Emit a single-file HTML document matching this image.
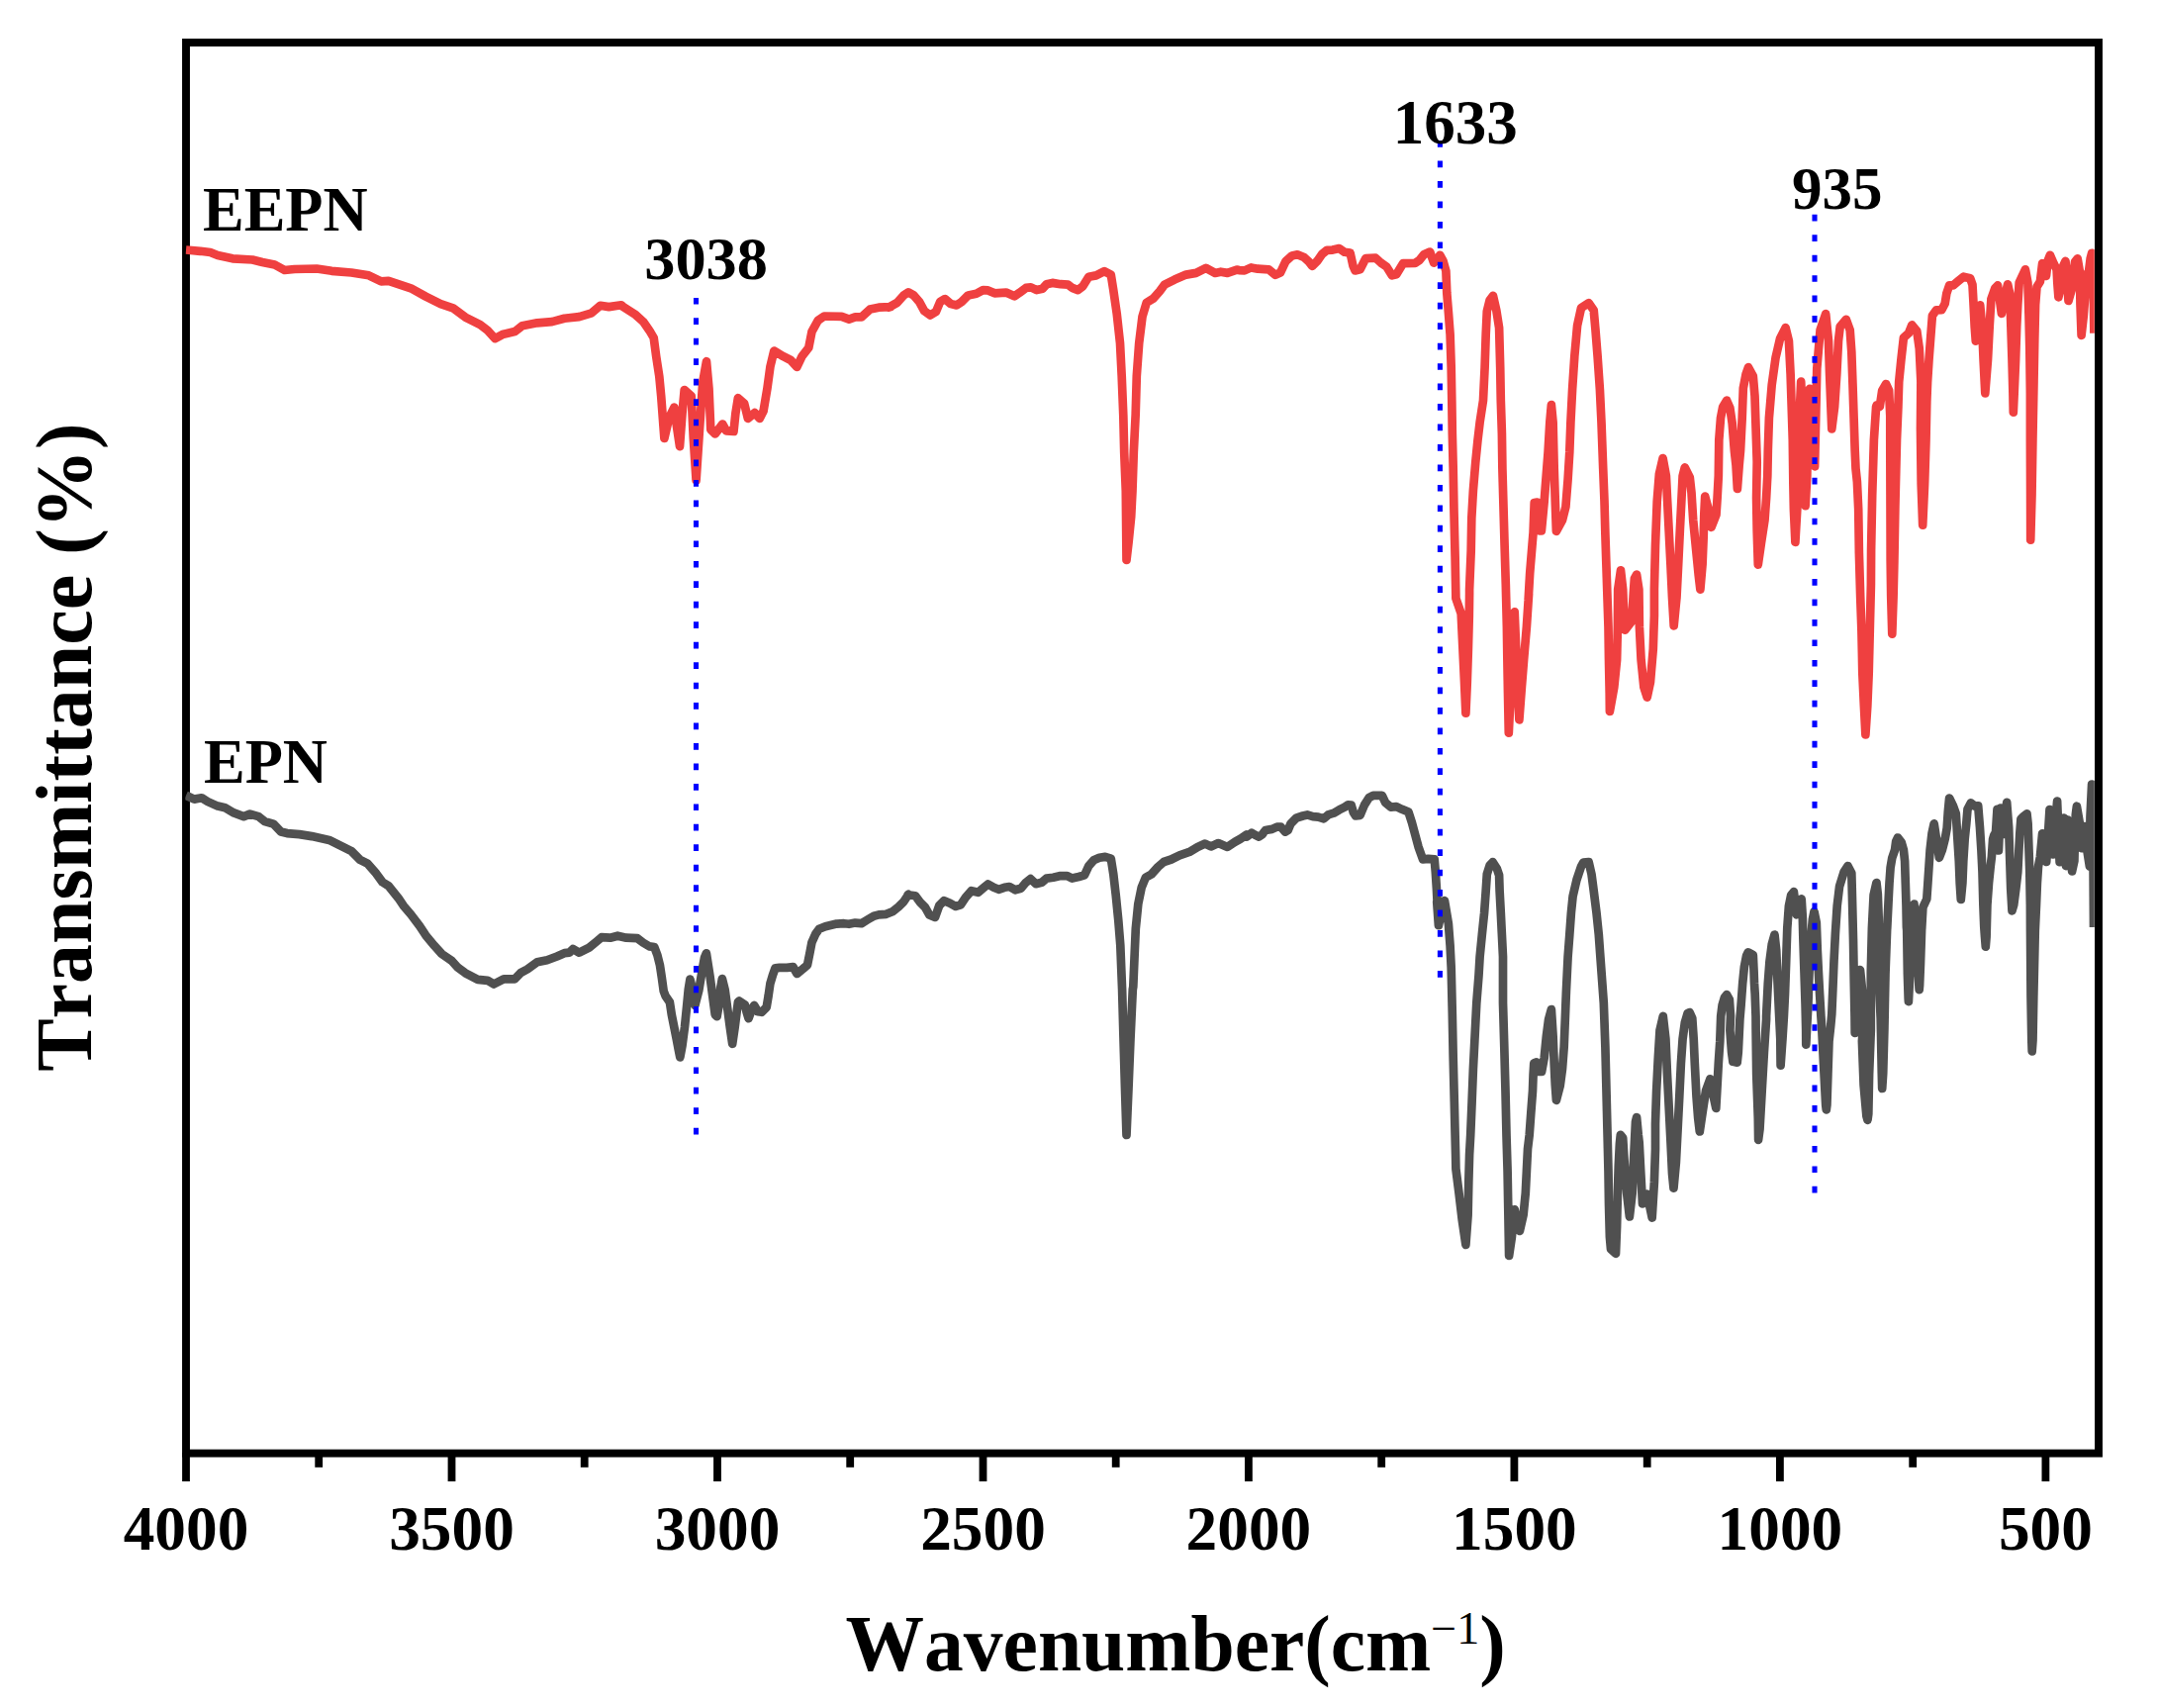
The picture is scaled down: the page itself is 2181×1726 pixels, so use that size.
<!DOCTYPE html>
<html><head><meta charset="utf-8"><title>FTIR</title>
<style>
html,body{margin:0;padding:0;background:#fff;}
body{width:2181px;height:1726px;overflow:hidden;}
svg{display:block;}
text{font-family:"Liberation Serif","Times New Roman",serif;font-weight:bold;fill:#000;font-kerning:none;font-feature-settings:"kern" 0,"liga" 0;}
</style></head><body>
<svg width="2181" height="1726" viewBox="0 0 2181 1726">
<rect width="2181" height="1726" fill="#fff"/>
<defs><clipPath id="c"><rect x="187.3" y="47" width="1929.5" height="1418"/></clipPath></defs>
<rect x="188" y="43" width="1933" height="1425.6" fill="none" stroke="#000" stroke-width="7.9"/>
<line x1="188.0" y1="1468" x2="188.0" y2="1497" stroke="#000" stroke-width="7.8"/>
<line x1="322.2" y1="1468" x2="322.2" y2="1482.8" stroke="#000" stroke-width="7.8"/>
<line x1="456.5" y1="1468" x2="456.5" y2="1497" stroke="#000" stroke-width="7.8"/>
<line x1="590.7" y1="1468" x2="590.7" y2="1482.8" stroke="#000" stroke-width="7.8"/>
<line x1="725.0" y1="1468" x2="725.0" y2="1497" stroke="#000" stroke-width="7.8"/>
<line x1="859.2" y1="1468" x2="859.2" y2="1482.8" stroke="#000" stroke-width="7.8"/>
<line x1="993.5" y1="1468" x2="993.5" y2="1497" stroke="#000" stroke-width="7.8"/>
<line x1="1127.7" y1="1468" x2="1127.7" y2="1482.8" stroke="#000" stroke-width="7.8"/>
<line x1="1261.9" y1="1468" x2="1261.9" y2="1497" stroke="#000" stroke-width="7.8"/>
<line x1="1396.2" y1="1468" x2="1396.2" y2="1482.8" stroke="#000" stroke-width="7.8"/>
<line x1="1530.4" y1="1468" x2="1530.4" y2="1497" stroke="#000" stroke-width="7.8"/>
<line x1="1664.7" y1="1468" x2="1664.7" y2="1482.8" stroke="#000" stroke-width="7.8"/>
<line x1="1798.9" y1="1468" x2="1798.9" y2="1497" stroke="#000" stroke-width="7.8"/>
<line x1="1933.2" y1="1468" x2="1933.2" y2="1482.8" stroke="#000" stroke-width="7.8"/>
<line x1="2067.4" y1="1468" x2="2067.4" y2="1497" stroke="#000" stroke-width="7.8"/>
<g clip-path="url(#c)" fill="none" stroke-linejoin="round" stroke-linecap="butt">
<path d="M188.0 803.8 L196.3 807.6 L203.8 806.3 L210.0 810.1 L220.0 814.6 L227.5 816.3 L236.3 821.4 L246.3 825.1 L252.6 822.6 L261.3 825.1 L267.6 830.1 L276.3 832.6 L283.9 840.6 L290.1 842.1 L302.6 843.1 L315.1 845.1 L332.7 848.9 L342.7 853.9 L355.2 860.1 L363.9 868.9 L371.4 872.7 L380.2 882.7 L386.5 891.4 L392.7 895.2 L402.7 907.7 L407.7 915.2 L415.2 924.0 L424.0 935.7 L430.3 945.2 L439.0 955.7 L446.5 964.0 L456.5 970.8 L462.8 977.8 L470.3 983.3 L482.8 989.8 L492.8 990.8 L499.1 994.5 L509.1 989.3 L520.3 989.3 L526.6 982.8 L532.9 979.5 L542.9 972.3 L552.9 970.3 L562.9 966.5 L570.4 963.2 L575.4 962.7 L579.1 959.0 L585.4 962.7 L595.4 957.7 L602.9 951.5 L607.9 947.2 L616.7 947.7 L624.2 945.7 L633.0 947.7 L644.2 948.2 L650.0 952.6 L656.3 956.4 L661.3 957.0 L664.4 965.2 L666.9 975.2 L668.8 987.7 L670.7 1001.5 L672.6 1006.5 L676.9 1012.8 L678.8 1025.3 L681.3 1037.8 L683.8 1050.4 L685.7 1060.4 L687.3 1068.5 L689.5 1056.6 L692.0 1037.8 L693.9 1019.0 L695.7 1000.3 L697.4 989.6 L699.5 997.7 L702.4 1015.9 L706.4 1000.3 L709.5 981.5 L712.0 967.7 L713.9 963.3 L717.7 987.7 L720.2 1006.5 L722.7 1025.3 L724.6 1027.2 L727.1 1012.8 L728.3 997.7 L729.9 989.0 L732.7 1000.3 L735.2 1019.0 L737.7 1037.8 L740.2 1054.8 L742.7 1037.8 L744.6 1022.8 L745.9 1012.8 L747.1 1011.5 L752.8 1015.3 L754.6 1022.8 L756.5 1029.1 L760.3 1019.0 L762.2 1015.9 L765.9 1022.2 L769.7 1022.8 L774.7 1017.8 L776.6 1006.5 L778.4 994.0 L781.0 985.2 L783.5 978.3 L787.8 977.9 L795.4 977.9 L801.6 977.1 L805.4 984.0 L811.7 978.9 L816.0 975.2 L818.5 962.7 L820.4 952.6 L824.2 943.9 L827.9 938.8 L834.2 936.3 L845.5 933.6 L853.0 933.2 L858.0 933.8 L864.3 932.6 L870.6 933.2 L876.8 929.4 L883.1 925.7 L888.1 924.4 L895.6 923.8 L901.9 921.3 L908.1 916.3 L913.2 911.3 L918.2 903.8 L917.5 904.3 L925.0 905.2 L930.0 911.8 L935.0 916.8 L939.2 924.4 L945.1 926.9 L949.2 915.2 L954.2 910.2 L960.1 912.7 L965.9 916.0 L970.9 914.3 L975.9 906.8 L981.8 900.2 L988.5 901.8 L993.5 897.7 L998.5 893.5 L1004.3 896.8 L1009.3 898.8 L1015.2 896.8 L1020.2 896.0 L1026.0 899.3 L1031.8 897.7 L1036.8 891.8 L1041.5 888.1 L1046.9 893.2 L1052.7 891.8 L1057.7 887.6 L1064.4 886.8 L1071.9 885.1 L1078.6 885.1 L1083.6 887.6 L1090.3 886.0 L1096.1 884.3 L1100.3 875.1 L1105.3 869.3 L1111.1 866.8 L1117.0 865.9 L1122.8 867.6 L1125.3 883.5 L1127.8 905.2 L1130.3 930.2 L1132.3 955.2 L1133.3 980.3 L1134.1 1000.0 L1135.5 1050.0 L1137.0 1100.0 L1138.5 1147.0 L1140.5 1100.0 L1142.5 1050.0 L1144.8 1000.0 L1145.3 997.0 L1146.7 963.6 L1147.8 938.5 L1150.3 913.5 L1153.7 896.8 L1157.8 886.8 L1163.7 883.5 L1170.4 876.0 L1176.2 871.0 L1183.7 868.5 L1192.1 864.3 L1202.1 860.9 L1210.4 855.9 L1217.9 852.6 L1223.8 855.4 L1231.3 852.1 L1240.5 855.9 L1248.0 850.9 L1253.8 847.6 L1260.0 843.4 L1260.0 845.6 L1265.0 841.7 L1267.8 843.4 L1272.2 845.6 L1275.6 843.4 L1278.9 839.0 L1285.6 837.9 L1290.6 835.6 L1294.5 835.6 L1298.9 840.6 L1301.7 839.0 L1304.5 832.3 L1310.1 826.7 L1316.7 824.5 L1321.2 823.4 L1326.8 825.1 L1332.3 825.6 L1337.9 827.3 L1342.3 823.4 L1347.9 821.7 L1353.4 818.4 L1359.0 815.6 L1362.3 813.4 L1365.7 813.6 L1367.9 821.2 L1370.1 824.5 L1374.6 823.9 L1379.0 813.4 L1383.5 806.2 L1387.9 803.9 L1396.8 803.9 L1400.2 811.2 L1405.7 815.6 L1411.3 815.1 L1416.9 817.8 L1423.5 820.6 L1426.9 831.2 L1430.2 843.4 L1433.5 855.7 L1438.0 868.4 L1443.5 867.9 L1449.7 868.4 L1450.8 881.2 L1451.9 897.9 L1453.0 920.2 L1452.2 911.2 L1453.9 935.2 L1456.7 922.4 L1460.0 910.1 L1463.9 933.5 L1465.6 955.7 L1466.7 978.0 L1467.8 1024.5 L1468.7 1069.0 L1469.8 1113.5 L1470.6 1146.9 L1471.1 1166.7 L1471.4 1181.1 L1474.5 1205.6 L1477.8 1233.4 L1481.4 1257.9 L1483.6 1227.9 L1484.3 1194.5 L1485.1 1166.7 L1486.2 1146.9 L1487.6 1113.5 L1488.9 1080.1 L1490.6 1046.7 L1492.3 1013.4 L1494.5 985.6 L1495.6 966.9 L1497.8 944.6 L1500.1 922.4 L1501.7 900.1 L1502.8 883.4 L1505.6 874.5 L1508.7 871.2 L1512.9 877.9 L1515.1 884.5 L1515.6 900.1 L1516.8 922.4 L1517.9 944.6 L1519.0 966.9 L1519.0 1013.4 L1520.3 1057.9 L1521.5 1102.4 L1522.5 1146.9 L1523.6 1183.4 L1524.2 1216.7 L1524.8 1250.1 L1525.1 1269.0 L1527.9 1250.1 L1529.5 1233.4 L1530.7 1222.3 L1533.4 1234.5 L1535.9 1244.0 L1539.6 1227.9 L1541.8 1205.6 L1542.9 1183.4 L1544.0 1161.1 L1545.7 1146.9 L1547.3 1124.6 L1549.0 1102.4 L1549.6 1085.7 L1550.3 1074.3 L1552.9 1073.4 L1555.7 1082.9 L1558.1 1082.9 L1560.7 1069.0 L1562.9 1046.7 L1565.1 1030.1 L1567.9 1020.0 L1569.6 1046.7 L1570.7 1074.5 L1571.8 1096.8 L1572.9 1111.8 L1576.8 1096.8 L1579.0 1080.1 L1580.7 1057.9 L1581.8 1030.1 L1582.9 1002.2 L1584.6 966.9 L1586.3 944.6 L1587.9 922.4 L1589.6 905.7 L1593.5 889.0 L1598.0 875.6 L1600.2 871.7 L1605.7 871.2 L1608.5 883.4 L1610.7 900.1 L1613.5 922.4 L1615.8 944.6 L1617.4 966.9 L1620.8 1013.4 L1622.4 1057.9 L1623.5 1102.4 L1624.6 1146.9 L1625.5 1183.4 L1626.0 1216.7 L1626.9 1250.1 L1628.0 1262.3 L1633.0 1266.8 L1634.1 1239.0 L1634.9 1205.6 L1635.8 1177.8 L1636.9 1155.6 L1637.8 1146.9 L1640.2 1150.0 L1641.9 1177.8 L1644.1 1205.6 L1646.9 1229.5 L1649.7 1205.6 L1650.8 1177.8 L1651.9 1155.6 L1653.0 1133.5 L1654.1 1129.1 L1655.8 1146.9 L1656.7 1154.4 L1658.2 1183.4 L1659.4 1205.6 L1660.0 1216.5 L1664.7 1206.7 L1669.7 1230.6 L1671.9 1194.5 L1673.0 1161.1 L1673.0 1135.7 L1674.1 1102.4 L1675.8 1069.0 L1677.5 1041.2 L1680.8 1026.9 L1683.4 1049.8 L1685.0 1085.6 L1686.7 1119.0 L1688.4 1152.4 L1690.0 1185.7 L1691.5 1200.7 L1693.9 1174.6 L1695.6 1141.2 L1697.3 1107.9 L1698.9 1074.5 L1700.6 1049.8 L1702.8 1033.5 L1705.6 1024.1 L1707.6 1023.0 L1710.3 1029.1 L1711.7 1049.8 L1712.8 1074.5 L1714.5 1107.9 L1716.2 1130.1 L1717.8 1143.5 L1720.6 1124.5 L1724.0 1102.3 L1728.4 1090.3 L1731.2 1105.6 L1734.3 1119.9 L1735.6 1096.7 L1736.8 1074.5 L1738.3 1052.2 L1739.2 1026.9 L1740.6 1015.7 L1742.9 1007.9 L1745.1 1005.2 L1747.9 1010.2 L1749.0 1026.9 L1748.4 1041.1 L1750.1 1063.4 L1751.4 1072.8 L1755.7 1073.6 L1756.8 1063.4 L1758.4 1030.0 L1759.6 1015.7 L1761.2 993.5 L1762.9 976.8 L1765.1 965.7 L1766.8 962.3 L1771.8 965.1 L1772.5 980.1 L1773.0 993.5 L1773.7 1004.6 L1774.5 1026.9 L1774.6 1041.1 L1775.2 1085.6 L1776.8 1130.1 L1777.1 1151.8 L1778.5 1141.2 L1780.7 1102.3 L1782.9 1063.4 L1785.1 1030.0 L1785.1 1026.9 L1786.8 993.5 L1788.5 971.2 L1790.7 954.5 L1793.5 944.5 L1795.2 960.1 L1796.6 993.5 L1797.9 1021.3 L1799.3 1049.8 L1799.6 1076.7 L1801.5 1049.8 L1802.9 1026.9 L1804.0 1004.6 L1805.2 971.2 L1806.3 937.9 L1807.9 915.6 L1810.2 904.5 L1812.9 901.2 L1815.7 924.3 L1820.7 908.4 L1821.8 926.7 L1822.4 949.0 L1823.5 982.4 L1824.6 1015.7 L1825.2 1041.1 L1825.3 1055.6 L1826.0 1041.1 L1827.4 1015.7 L1828.7 976.8 L1830.2 949.0 L1831.9 929.0 L1833.5 921.2 L1835.8 932.3 L1836.8 960.1 L1837.9 982.4 L1839.1 1004.6 L1840.4 1026.9 L1841.1 1036.7 L1843.0 1074.5 L1845.2 1116.8 L1845.8 1121.4 L1846.4 1116.8 L1847.4 1085.6 L1848.5 1052.2 L1850.2 1036.7 L1851.3 1024.6 L1852.4 999.0 L1853.5 971.2 L1854.9 943.4 L1856.7 915.6 L1859.1 895.6 L1863.6 881.1 L1867.5 875.0 L1871.3 882.2 L1871.9 904.5 L1873.0 949.0 L1873.8 993.5 L1874.5 1026.9 L1874.7 1043.9 L1876.9 1004.6 L1878.6 982.4 L1880.0 980.1 L1882.5 1004.6 L1883.8 1026.9 L1881.9 1052.2 L1883.6 1096.7 L1886.4 1127.9 L1887.5 1131.8 L1888.3 1125.7 L1889.1 1085.6 L1890.8 1041.1 L1890.8 982.4 L1891.9 937.9 L1893.6 904.5 L1896.4 892.3 L1894.6 914.6 L1896.2 893.5 L1896.5 892.1 L1897.8 903.5 L1898.7 928.0 L1899.1 995.6 L1900.7 1029.0 L1901.8 1084.6 L1902.2 1100.0 L1903.2 1084.6 L1904.4 1040.1 L1905.5 984.5 L1907.1 940.0 L1907.3 936.9 L1908.4 914.6 L1909.5 892.4 L1910.6 876.8 L1912.3 866.8 L1915.0 859.0 L1916.2 850.1 L1918.0 846.5 L1921.7 851.2 L1923.9 859.0 L1925.1 870.1 L1925.8 892.4 L1926.5 914.6 L1926.9 936.9 L1927.2 940.0 L1927.9 984.5 L1928.7 1009.0 L1928.9 1012.1 L1930.3 984.5 L1932.3 940.0 L1933.2 936.9 L1934.5 913.7 L1936.2 936.9 L1937.8 962.2 L1939.5 997.8 L1939.7 1000.1 L1940.1 995.6 L1941.0 973.4 L1942.1 940.0 L1942.3 936.9 L1943.4 916.8 L1947.3 908.5 L1948.4 892.4 L1949.5 875.7 L1950.6 859.0 L1952.5 842.3 L1954.7 832.3 L1957.9 853.4 L1959.9 866.8 L1962.9 859.0 L1965.7 847.9 L1967.7 836.7 L1968.8 820.1 L1970.1 806.5 L1974.0 814.5 L1976.8 822.3 L1978.4 847.9 L1979.8 870.1 L1980.7 892.4 L1981.8 909.0 L1983.4 892.4 L1984.3 870.1 L1985.7 847.9 L1987.3 832.3 L1988.5 817.8 L1991.8 811.4 L1995.7 814.5 L1999.2 814.3 L2001.0 836.7 L2002.4 859.0 L2003.5 881.2 L2004.4 914.6 L2005.3 936.9 L2006.0 946.7 L2006.8 956.7 L2007.6 946.7 L2008.4 914.6 L2010.0 892.4 L2011.7 875.7 L2012.9 865.7 L2014.1 847.9 L2015.2 844.3 L2017.0 841.2 L2018.5 817.8 L2019.9 859.5 L2021.8 816.7 L2024.6 842.9 L2028.2 810.9 L2030.2 836.7 L2031.3 870.1 L2032.2 897.9 L2033.5 920.4 L2035.2 914.6 L2037.4 897.9 L2039.3 881.2 L2040.4 859.0 L2041.3 842.3 L2042.4 827.8 L2044.6 825.4 L2048.5 822.3 L2049.6 832.3 L2050.5 859.0 L2051.3 881.2 L2051.9 914.6 L2052.0 940.0 L2052.5 1006.7 L2053.3 1051.2 L2053.7 1062.4 L2054.5 1051.2 L2055.3 1006.7 L2056.8 940.0 L2058.0 914.6 L2058.9 892.4 L2060.0 875.7 L2061.9 865.7 L2064.1 842.3 L2068.2 871.0 L2071.5 818.1 L2074.7 863.4 L2079.1 809.5 L2081.6 871.2 L2085.8 826.7 L2088.0 875.1 L2089.7 828.7 L2094.1 880.5 L2096.4 870.1 L2096.9 847.9 L2097.8 823.4 L2098.9 814.7 L2101.9 832.3 L2103.8 857.1 L2106.9 835.1 L2109.1 857.9 L2111.9 875.5 L2112.5 825.6 L2114.1 792.5 L2114.9 836.7 L2115.6 881.2 L2116.0 936.9" stroke="#505050" stroke-width="8.7"/>
<path d="M188.0 252.5 L202.5 253.8 L212.5 255.0 L220.0 258.0 L235.1 261.3 L255.1 262.5 L265.1 265.0 L277.6 267.5 L287.6 273.0 L297.6 272.0 L320.1 271.5 L335.2 273.8 L355.2 275.5 L372.7 278.3 L385.2 284.3 L392.7 283.8 L415.2 291.3 L430.3 299.6 L445.3 307.1 L457.8 311.3 L470.3 320.6 L485.3 328.1 L492.8 333.9 L500.3 342.1 L507.8 338.1 L520.3 335.1 L527.8 329.3 L542.9 326.3 L557.9 325.1 L570.4 321.8 L585.4 320.1 L597.9 316.3 L606.7 308.8 L615.4 310.1 L627.9 308.3 L630.0 310.1 L642.5 318.2 L650.1 325.1 L656.3 333.9 L660.7 341.4 L663.2 360.2 L666.3 380.3 L668.2 400.3 L669.8 421.6 L671.4 442.9 L676.4 421.6 L681.4 411.6 L683.9 430.4 L687.0 451.1 L689.5 417.8 L691.7 394.0 L698.7 400.3 L700.8 442.9 L703.6 485.5 L706.4 442.9 L710.2 386.5 L714.0 365.2 L716.5 392.8 L718.3 434.1 L722.7 438.5 L730.3 428.5 L734.0 435.4 L741.5 436.0 L743.4 417.8 L745.9 402.2 L752.2 407.8 L755.9 422.9 L762.8 417.2 L767.8 422.9 L771.6 415.3 L775.4 392.8 L778.5 370.2 L782.3 354.6 L791.7 360.2 L799.2 364.0 L805.4 370.9 L810.5 360.2 L817.3 351.4 L820.5 335.1 L826.7 323.9 L833.0 319.5 L850.6 319.8 L858.1 322.6 L864.3 320.4 L870.6 320.4 L879.4 312.6 L888.1 310.7 L900.1 310.1 L898.3 310.6 L906.7 305.9 L913.4 298.4 L918.0 295.4 L923.4 298.4 L929.2 305.1 L934.2 314.3 L940.1 318.5 L945.9 315.1 L950.1 305.1 L955.1 302.1 L960.9 307.1 L966.8 308.4 L971.8 305.1 L978.5 298.4 L986.8 296.8 L993.5 293.1 L998.5 293.4 L1005.2 296.3 L1016.8 295.6 L1025.2 299.3 L1030.2 295.9 L1036.9 290.9 L1041.9 290.4 L1047.7 293.1 L1053.6 291.7 L1057.7 287.2 L1063.6 285.9 L1071.9 287.2 L1079.4 287.6 L1083.6 290.9 L1089.4 293.1 L1094.4 289.2 L1100.3 279.7 L1107.8 278.4 L1116.1 274.2 L1122.8 277.6 L1125.3 293.4 L1128.7 316.8 L1132.0 346.8 L1133.7 380.2 L1135.3 420.0 L1136.2 457.0 L1137.8 496.0 L1138.5 566.0 L1140.7 547.0 L1143.2 522.0 L1144.5 496.0 L1145.8 457.0 L1147.7 418.6 L1148.8 380.0 L1151.2 346.8 L1154.5 320.1 L1158.7 305.9 L1165.4 301.8 L1172.0 294.3 L1177.0 287.6 L1187.1 282.6 L1198.7 277.6 L1208.8 275.9 L1218.8 270.9 L1228.0 275.9 L1233.8 274.7 L1240.5 275.9 L1250.0 272.6 L1252.2 273.1 L1257.8 273.4 L1264.5 270.4 L1271.2 271.7 L1282.3 272.3 L1289.0 277.8 L1294.0 275.6 L1299.5 263.9 L1305.6 258.4 L1311.2 257.3 L1317.9 260.0 L1322.3 263.9 L1326.2 268.9 L1331.2 263.9 L1336.2 256.7 L1341.2 252.8 L1346.8 252.6 L1353.5 251.1 L1359.0 254.8 L1364.6 255.6 L1367.4 268.4 L1369.6 273.4 L1374.6 272.3 L1380.2 261.2 L1390.2 260.6 L1395.7 265.6 L1401.3 269.5 L1406.9 278.4 L1411.3 277.3 L1418.0 266.2 L1430.2 265.9 L1434.7 262.8 L1439.1 257.3 L1445.2 254.5 L1449.1 265.6 L1452.5 261.7 L1455.3 257.8 L1458.6 263.9 L1461.4 273.9 L1462.3 296.2 L1463.9 315.6 L1465.6 337.9 L1466.7 371.2 L1467.3 404.6 L1467.8 438.0 L1468.7 473.4 L1469.5 517.9 L1470.6 562.4 L1471.4 604.6 L1476.7 620.0 L1478.4 655.6 L1480.0 689.0 L1481.4 720.7 L1482.8 689.0 L1483.9 655.6 L1484.8 622.2 L1485.1 600.0 L1485.1 595.7 L1486.7 556.8 L1487.3 523.4 L1488.9 495.6 L1491.2 467.8 L1493.4 445.6 L1495.6 426.9 L1499.0 404.6 L1500.6 371.2 L1501.7 337.9 L1502.8 314.5 L1505.6 303.4 L1509.0 298.9 L1512.3 313.4 L1515.1 331.2 L1516.2 371.2 L1516.8 404.6 L1517.9 438.0 L1518.4 473.4 L1519.5 512.3 L1520.6 551.2 L1521.8 590.2 L1522.9 633.4 L1523.4 666.7 L1524.0 700.1 L1524.8 740.7 L1527.9 677.9 L1530.7 618.4 L1532.9 672.3 L1535.4 727.4 L1537.9 694.5 L1540.1 666.7 L1542.9 633.4 L1545.1 600.0 L1544.6 606.9 L1546.2 579.0 L1548.5 551.2 L1549.6 537.9 L1550.7 508.1 L1553.7 507.6 L1555.7 536.3 L1557.9 536.3 L1560.7 506.7 L1562.4 484.5 L1564.6 456.7 L1566.3 426.9 L1567.9 409.1 L1569.6 426.9 L1570.7 473.4 L1571.8 506.7 L1572.9 536.8 L1579.0 525.7 L1582.4 512.3 L1584.6 484.5 L1586.3 456.7 L1587.4 426.9 L1589.1 393.5 L1591.3 360.1 L1594.1 329.0 L1598.0 311.2 L1605.7 306.2 L1610.7 313.4 L1612.4 332.3 L1614.6 360.1 L1616.9 393.5 L1618.5 426.9 L1620.2 473.4 L1621.5 506.7 L1622.4 540.1 L1623.5 573.5 L1624.6 606.9 L1625.5 633.4 L1626.0 666.7 L1626.7 700.1 L1626.9 719.0 L1631.3 694.5 L1634.1 666.7 L1634.9 633.4 L1635.2 595.7 L1638.0 576.3 L1640.2 595.7 L1640.8 611.1 L1642.4 636.7 L1649.1 627.8 L1650.8 600.0 L1651.9 584.6 L1654.1 580.6 L1656.4 595.7 L1656.9 633.4 L1658.6 666.7 L1661.4 694.5 L1664.7 704.6 L1668.0 689.0 L1670.8 655.6 L1671.9 622.2 L1671.9 595.7 L1673.0 551.2 L1674.7 506.7 L1676.9 478.9 L1680.6 463.0 L1683.9 481.1 L1685.0 503.4 L1686.7 536.7 L1688.4 570.1 L1690.0 603.5 L1691.7 632.4 L1694.5 603.5 L1696.2 570.1 L1697.8 536.7 L1699.5 503.4 L1700.6 481.1 L1702.8 472.4 L1707.8 482.4 L1709.5 497.8 L1711.2 525.6 L1714.5 559.0 L1716.7 581.2 L1718.4 595.7 L1720.6 570.1 L1721.7 542.3 L1722.3 520.1 L1723.2 501.7 L1726.7 514.5 L1729.5 532.8 L1734.5 520.1 L1735.6 503.4 L1736.8 481.1 L1737.3 444.6 L1739.0 422.4 L1741.2 411.2 L1745.1 404.6 L1748.4 412.3 L1750.7 427.9 L1752.9 455.7 L1754.5 470.0 L1755.9 493.9 L1757.7 470.0 L1759.0 455.7 L1760.7 422.4 L1761.8 392.3 L1764.6 377.9 L1767.0 371.2 L1771.8 380.1 L1773.5 400.1 L1774.6 433.5 L1775.7 466.9 L1775.1 503.4 L1775.7 536.7 L1776.8 570.7 L1780.1 547.9 L1783.5 525.6 L1785.1 503.4 L1786.3 481.1 L1786.8 455.7 L1787.9 422.4 L1790.7 389.0 L1794.6 361.2 L1799.0 342.3 L1804.6 331.1 L1807.9 344.5 L1809.6 377.9 L1810.7 411.2 L1811.8 444.6 L1812.4 489.8 L1812.9 514.5 L1814.4 547.9 L1816.3 514.5 L1817.4 481.1 L1818.5 422.4 L1820.2 385.7 L1821.8 422.4 L1823.5 481.1 L1824.6 511.2 L1826.3 481.1 L1827.4 422.4 L1828.9 392.9 L1830.7 422.4 L1834.1 471.3 L1835.2 422.4 L1836.3 372.3 L1839.6 333.4 L1845.2 317.2 L1848.0 344.5 L1849.1 377.9 L1850.4 411.2 L1851.3 433.5 L1854.1 411.2 L1856.3 377.9 L1858.0 344.5 L1859.7 330.0 L1865.8 322.8 L1869.7 333.4 L1871.3 355.6 L1872.5 389.0 L1873.6 422.4 L1874.7 455.7 L1875.5 473.5 L1876.9 486.7 L1878.2 514.5 L1878.9 559.0 L1880.2 603.5 L1881.4 636.9 L1881.9 660.0 L1882.3 680.1 L1883.9 713.5 L1885.4 742.4 L1887.3 713.5 L1888.7 680.1 L1889.8 635.6 L1890.9 591.1 L1891.1 555.7 L1892.2 500.1 L1893.9 444.5 L1896.1 411.1 L1896.7 409.3 L1899.8 410.8 L1902.2 394.6 L1906.1 388.0 L1909.1 394.6 L1910.3 420.0 L1910.3 444.5 L1910.5 500.1 L1910.7 566.9 L1911.2 602.2 L1912.3 640.6 L1913.6 602.2 L1914.4 566.9 L1915.4 511.2 L1917.0 444.5 L1918.4 411.1 L1919.2 385.7 L1921.4 363.5 L1923.9 341.2 L1928.9 336.8 L1932.3 328.4 L1937.3 334.6 L1939.8 352.4 L1941.4 385.7 L1941.0 433.4 L1941.7 489.0 L1943.2 530.7 L1945.1 489.0 L1946.5 444.5 L1947.3 405.6 L1948.1 385.7 L1949.5 363.5 L1951.2 341.2 L1952.9 319.0 L1956.8 313.4 L1962.3 313.2 L1965.7 306.8 L1967.3 296.7 L1970.1 288.4 L1974.0 288.4 L1979.0 284.2 L1984.6 279.7 L1991.2 281.2 L1993.5 287.8 L1994.6 307.9 L1995.7 330.1 L1996.8 344.6 L1999.6 319.0 L2001.2 308.4 L2003.2 330.1 L2004.6 363.5 L2006.3 397.4 L2009.0 363.5 L2010.7 330.1 L2012.4 302.3 L2016.3 291.2 L2019.0 288.4 L2022.9 316.8 L2026.8 296.7 L2029.1 287.3 L2031.3 296.7 L2032.4 330.1 L2033.5 363.5 L2034.4 396.9 L2034.8 416.7 L2035.7 396.9 L2037.1 363.5 L2038.2 330.1 L2039.3 307.9 L2040.7 285.6 L2043.5 279.5 L2046.9 272.3 L2049.4 285.6 L2050.5 319.0 L2051.3 352.4 L2051.9 396.9 L2051.9 444.5 L2052.1 500.1 L2052.2 545.7 L2053.5 500.1 L2054.4 444.5 L2055.5 385.7 L2056.3 341.2 L2057.1 307.9 L2058.5 290.1 L2061.9 284.5 L2064.1 266.2 L2068.0 278.9 L2069.7 263.4 L2071.9 257.8 L2075.8 266.7 L2078.6 272.3 L2079.3 285.6 L2080.4 300.3 L2083.6 285.6 L2085.2 268.9 L2087.5 263.9 L2089.1 283.4 L2090.5 304.0 L2094.1 291.2 L2095.8 274.5 L2097.1 264.5 L2099.7 261.4 L2101.9 274.5 L2102.5 307.9 L2103.6 338.8 L2105.8 319.0 L2107.5 296.7 L2108.9 277.8 L2111.1 273.9 L2112.7 261.1 L2114.1 255.8 L2115.6 274.5 L2116.0 307.9 L2116.4 336.8" stroke="#ef4040" stroke-width="8.7"/>
</g>
<g stroke="#0000ff" stroke-width="5.1" stroke-dasharray="6.7 13.76" fill="none">
<line x1="703.5" y1="300.9" x2="703.5" y2="1147"/>
<line x1="1455.4" y1="142.1" x2="1455.4" y2="988"/>
<line x1="1834" y1="196.3" x2="1834" y2="1206"/>
</g>
<text x="188.0" y="1565.6" text-anchor="middle" font-size="63.3">4000</text>
<text x="456.5" y="1565.6" text-anchor="middle" font-size="63.3">3500</text>
<text x="725.0" y="1565.6" text-anchor="middle" font-size="63.3">3000</text>
<text x="993.5" y="1565.6" text-anchor="middle" font-size="63.3">2500</text>
<text x="1261.9" y="1565.6" text-anchor="middle" font-size="63.3">2000</text>
<text x="1530.4" y="1565.6" text-anchor="middle" font-size="63.3">1500</text>
<text x="1798.9" y="1565.6" text-anchor="middle" font-size="63.3">1000</text>
<text x="2067.4" y="1565.6" text-anchor="middle" font-size="63.3">500</text>
<text x="205" y="233" font-size="62.5">EEPN</text>
<text x="206" y="791.3" font-size="62.5">EPN</text>
<text x="651.3" y="282.4" font-size="62.3">3038</text>
<text x="1407.8" y="144.8" font-size="63">1633</text>
<text x="1811" y="210.8" font-size="61">935</text>
<text x="854.6" y="1687.6" font-size="79.5">Wavenumber(cm<tspan font-size="46" font-weight="normal" dy="-26.5">−1</tspan><tspan dy="26.5">)</tspan></text>
<text transform="translate(92.2 1082.8) rotate(-90)" font-size="80">Transmittance (%)</text>
</svg>
</body></html>
